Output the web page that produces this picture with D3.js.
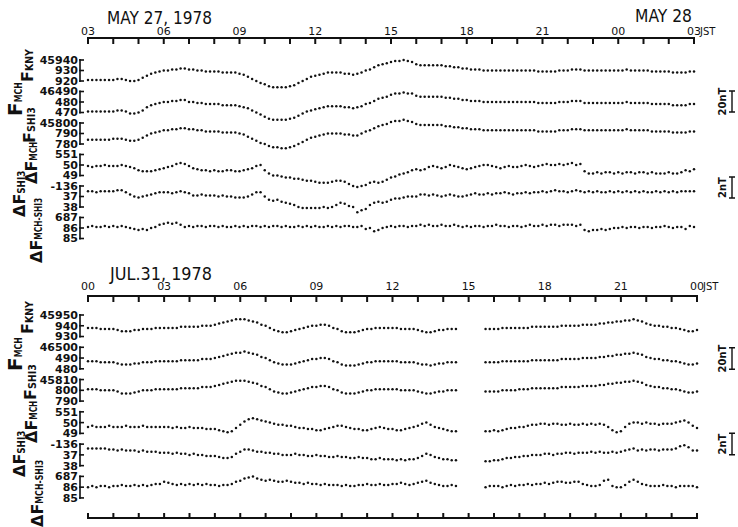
<!DOCTYPE html>
<html>
<head>
<meta charset="utf-8">
<script src="https://cdn.jsdelivr.net/npm/d3@7"></script>
<style>
  body { margin: 0; background: #fff; }
</style>
</head>
<body>
<script>
// ---- data (10-minute values, 145 per day) ----
// time labels on the top axes
const hourLabelsMay = ["03", "06", "09", "12", "15", "18", "21", "00", "03"];
const hourLabelsJul = ["00", "03", "06", "09", "12", "15", "18", "21", "00"];

// y tick labels, three per trace, as printed
const tickLabelsMay = [["45940", "930", "920"], ["46490", "480", "470"], ["45800", "790", "780"],
                       ["551", "50", "49"], ["-136", "37", "38"], ["687", "86", "85"]];
const tickLabelsJul = [["45950", "940", "930"], ["46500", "490", "480"], ["45810", "800", "790"],
                       ["551", "50", "49"], ["-136", "37", "38"], ["687", "86", "85"]];
// value of the top tick of each trace and the tick step (nT)
const tickTopMay = [45940, 46490, 45800, 551, -136, 687];
const tickTopJul = [45950, 46500, 45810, 551, -136, 687];
const tickStep = [10, 10, 10, 1, 1, 1];

// total field, stored as nT above these bases
const fBase = [45900, 46400, 45700];

// May 27 03h JST -> May 28 03h JST
const mayKny = [21,21,21,21,21,21, 21,22,22,21,20,20, 21,23,25,27,28,29, 30,30,31,31,32,32,
  31,31,30,30,29,29, 29,29,28,28,28,28, 27,26,24,22,20,18, 17,15,14,14,14,14,
  15,16,18,20,22,24, 25,26,27,28,28,28, 28,27,27,26,27,28, 30,31,33,35,36,37,
  38,39,39,40,39,38, 36,35,35,35,35,35, 35,34,34,33,33,32, 32,31,31,31,30,30,
  30,30,30,30,30,30, 30,30,30,30,30,29, 29,29,29,29,30,30, 30,31,31,31,30,30,
  30,30,30,30,30,30, 30,30,31,30,30,30, 30,30,29,29,29,29, 29,28,28,28,28,29, 29];
const mayMch = [71,71,71,71,71,71, 71,72,72,71,69,69, 70,72,75,77,78,79, 80,80,81,81,82,82,
  80,80,79,79,78,78, 78,78,77,77,77,77, 76,75,74,72,70,68, 66,64,63,63,63,63,
  64,65,67,69,71,72, 73,74,75,76,76,76, 76,75,75,74,75,76, 78,79,81,83,84,85,
  87,88,88,89,88,88, 86,85,85,85,85,85, 85,84,84,83,83,82, 82,81,81,81,80,80,
  80,80,80,80,80,80, 80,80,80,80,80,79, 79,79,79,79,80,80, 80,81,81,81,79,79,
  79,79,79,79,79,79, 79,79,80,79,79,79, 79,79,78,78,78,78, 78,77,77,77,77,78, 78];
const mayShi = [84,84,84,84,84,84, 85,85,85,84,83,83, 84,86,88,90,91,92, 93,93,94,94,95,95,
  94,94,93,93,92,92, 92,92,91,91,91,91, 90,89,87,85,83,81, 80,78,77,77,76,76,
  77,78,80,82,84,86, 87,88,89,90,90,90, 90,89,89,88,88,90, 92,93,95,97,98,99,
  101,102,102,103,102,101, 99,98,98,98,98,98, 98,97,97,96,96,95, 95,94,94,94,93,93,
  93,93,93,93,93,93, 93,93,93,93,93,92, 92,92,92,92,93,93, 93,94,94,94,93,93,
  93,93,93,93,93,93, 93,93,94,93,93,93, 93,93,92,92,92,92, 92,91,91,91,91,92, 92];
const mayDMch = [549.9,549.8,549.9,549.9,550.0,549.9, 549.9,549.9,550.0,549.9,549.8,549.7,
  549.5,549.4,549.4,549.4,549.5,549.6, 549.7,549.8,549.9,550.1,550.2,550.1,
  549.9,549.7,549.6,549.5,549.5,549.4, 549.5,549.4,549.4,549.5,549.5,549.4,
  549.4,549.5,549.6,549.7,549.9,550.0, 549.5,549.2,549.0,549.0,548.9,548.8,
  548.8,548.7,548.7,548.6,548.5,548.5, 548.4,548.3,548.3,548.3,548.4,548.5,
  548.5,548.4,548.2,548.0,547.9,548.0, 548.1,548.3,548.4,548.3,548.4,548.6,
  548.8,548.9,549.1,549.2,549.3,549.5, 549.6,549.5,549.6,549.8,549.9,549.8,
  549.7,549.8,550.0,549.9,549.8,549.7, 549.6,549.7,549.8,549.9,550.0,550.0,
  549.9,549.8,549.7,549.8,549.9,549.8, 549.8,549.9,550.0,549.9,549.8,549.9,
  550.0,550.1,550.0,550.0,550.1,550.0, 550.1,550.2,550.0,550.1,549.4,549.2,
  549.2,549.3,549.2,549.3,549.3,549.2, 549.3,549.2,549.3,549.3,549.2,549.3,
  549.3,549.2,549.3,549.2,549.2,549.2, 549.3,549.2,549.2,549.3,549.5,549.4, 549.6];
const mayDShi = [-136.5,-136.5,-136.6,-136.5,-136.5,-136.5, -136.5,-136.4,-136.4,-136.6,-136.8,-137.0,
  -137.1,-137.0,-136.9,-136.8,-136.7,-136.6, -136.6,-136.6,-136.7,-136.6,-136.5,-136.6,
  -136.7,-136.9,-136.9,-136.8,-136.9,-136.9, -136.9,-137.0,-136.9,-137.0,-137.0,-137.1,
  -137.1,-137.1,-137.0,-136.8,-136.6,-136.6, -137.0,-137.3,-137.4,-137.3,-137.5,-137.6,
  -137.7,-137.8,-138.0,-138.1,-138.1,-138.1, -138.1,-138.1,-138.0,-138.1,-138.0,-137.8,
  -137.6,-137.7,-137.9,-138.0,-138.5,-138.3, -138.2,-137.8,-137.6,-137.5,-137.6,-137.5,
  -137.3,-137.2,-137.2,-137.1,-137.0,-137.0, -137.0,-136.8,-136.8,-136.9,-136.8,-136.9,
  -137.0,-136.9,-136.8,-136.9,-137.0,-137.0, -136.9,-136.8,-136.7,-136.8,-136.8,-136.7,
  -136.8,-136.7,-136.7,-136.6,-136.7,-136.8, -136.7,-136.7,-136.6,-136.7,-136.6,-136.6,
  -136.5,-136.6,-136.5,-136.4,-136.5,-136.5, -136.6,-136.5,-136.4,-136.5,-136.6,-136.5,
  -136.6,-136.5,-136.6,-136.6,-136.5,-136.6, -136.5,-136.6,-136.5,-136.6,-136.5,-136.6,
  -136.5,-136.6,-136.6,-136.5,-136.6,-136.5, -136.6,-136.5,-136.6,-136.5,-136.5,-136.5, -136.5];
const mayDMchShi = [686.1,686.2,686.1,686.1,686.2,686.1, 686.2,686.1,686.2,686.1,686.0,685.9,
  685.8,685.9,685.8,686.0,686.1,686.3, 686.4,686.5,686.4,686.5,686.3,686.1,
  686.2,686.1,686.2,686.2,686.1,686.2, 686.2,686.1,686.2,686.1,686.1,686.2,
  686.1,686.2,686.1,686.2,686.2,686.1, 686.2,686.1,686.2,686.2,686.1,686.2,
  686.1,686.1,686.2,686.1,686.2,686.1, 686.2,686.1,686.1,686.2,686.1,686.2,
  686.1,686.2,686.2,686.1,686.1,686.2, 685.9,686.0,685.7,685.8,686.0,686.1,
  686.2,686.1,686.2,686.2,686.1,686.2, 686.2,686.3,686.2,686.3,686.2,686.2,
  686.3,686.2,686.2,686.3,686.2,686.1, 686.2,686.1,686.2,686.2,686.1,686.2,
  686.2,686.3,686.2,686.2,686.1,686.2, 686.2,686.1,686.2,686.3,686.2,686.2,
  686.3,686.2,686.3,686.3,686.2,686.3, 686.3,686.3,686.2,686.3,685.8,685.7,
  685.8,685.8,685.9,685.8,685.9,686.0, 686.0,686.1,686.0,686.1,686.1,686.0,
  686.1,686.1,686.0,686.1,686.1,686.2, 686.1,686.0,686.1,686.1,685.9,686.2, 686.1];

// Jul 31 00h JST -> Aug 1 00h JST (null = no record)
const julKny = [38,38,38,37,37,37, 37,36,35,35,35,36, 36,37,37,37,38,38, 38,38,38,38,39,39,
  39,39,39,40,40,40, 41,42,43,44,45,46, 46,46,45,44,43,41, 40,38,36,35,34,34,
  35,36,37,38,39,40, 40,41,41,40,38,37, 35,34,34,34,35,36, 37,37,38,38,38,38,
  38,38,37,37,37,37, 36,35,34,34,35,36, 36,37,37,37,null,null, null,null,null,null,37,37,
  37,37,38,38,38,38, 38,38,38,39,39,39, 39,39,39,39,40,40, 40,40,40,41,41,41,
  41,42,42,43,43,44, 44,45,45,46,45,44, 42,41,40,40,39,39, 38,38,37,36,35,35, 36];
const julMch = [87,87,87,86,86,86, 86,85,84,84,84,85, 85,86,86,86,87,87, 87,87,87,87,88,88,
  88,88,88,89,89,89, 90,91,92,93,94,95, 95,96,95,94,93,91, 90,88,86,85,84,84,
  84,85,86,87,88,89, 89,90,90,89,87,86, 84,83,83,83,84,85, 86,86,87,87,87,87,
  87,87,86,86,86,86, 85,84,84,83,84,85, 85,86,86,86,null,null, null,null,null,null,86,86,
  86,86,87,87,87,87, 87,87,87,88,88,88, 88,88,88,88,89,89, 89,89,89,90,90,90,
  90,91,91,92,92,93, 93,94,94,95,94,93, 91,90,89,89,88,88, 87,87,86,85,84,84, 85];
const julShi = [101,101,101,100,100,100, 100,99,97,97,97,98, 99,100,100,100,101,101,
  101,101,101,101,102,102, 102,102,102,103,103,103, 104,105,106,107,108,109,
  109,109,108,107,106,104, 103,101,99,98,97,97, 98,99,100,101,102,103,
  103,104,104,103,101,100, 98,97,97,97,98,99, 100,100,101,101,101,101,
  101,101,100,100,100,100, 99,98,97,97,98,99, 99,100,100,100,null,null,
  null,null,null,null,99,99, 99,99,100,100,100,100, 101,101,101,102,102,102,
  102,102,102,102,103,103, 103,103,103,104,104,104, 104,105,105,106,106,107,
  107,108,108,109,108,107, 105,104,103,103,102,102, 101,101,100,99,98,98, 99];
const julDMch = [549.6,549.7,549.6,549.6,549.6,549.7, 549.6,549.6,549.6,549.7,549.6,549.6,
  549.6,549.7,549.6,549.6,549.6,549.6, 549.6,549.6,549.5,549.6,549.5,549.5,
  549.6,549.5,549.5,549.5,549.4,549.4, 549.4,549.3,549.2,549.1,549.2,549.5,
  549.8,550.1,550.3,550.4,550.3,550.2, 550.1,550.0,549.9,549.8,549.8,549.7,
  549.7,549.6,549.5,549.5,549.4,549.4, 549.3,549.3,549.4,549.5,549.6,549.7,
  549.7,549.6,549.5,549.4,549.4,549.3, 549.3,549.4,549.5,549.6,549.5,549.4,
  549.4,549.3,549.3,549.4,549.5,549.6, 549.7,549.9,550.0,549.8,549.6,549.5,
  549.4,549.3,549.2,549.2,null,null, null,null,null,null,549.2,549.2,
  549.3,549.2,549.3,549.4,549.5,549.5, 549.6,549.6,549.7,549.8,549.8,549.9,
  549.9,549.8,549.9,549.9,549.8,549.8, 549.9,549.8,549.8,549.9,549.8,549.9,
  549.8,549.9,549.8,549.6,549.3,549.1, 549.2,549.6,549.9,550.0,550.0,549.9,
  550.0,549.9,549.9,549.8,549.9,549.9, 549.9,550.0,550.1,550.2,550.0,549.7, 549.5];
const julDShi = [-136.4,-136.4,-136.4,-136.4,-136.4,-136.5, -136.5,-136.6,-136.5,-136.6,-136.6,-136.6,
  -136.7,-136.6,-136.7,-136.7,-136.7,-136.8, -136.8,-136.8,-136.9,-136.8,-136.9,-136.9,
  -137.0,-136.9,-137.0,-137.0,-137.1,-137.1, -137.1,-137.2,-137.3,-137.3,-137.2,-136.9,
  -136.7,-136.5,-136.5,-136.6,-136.7,-136.7, -136.8,-136.8,-136.9,-136.9,-137.0,-137.0,
  -137.0,-136.9,-137.0,-137.0,-137.1,-137.1, -137.0,-137.1,-137.1,-137.2,-137.2,-137.1,
  -137.2,-137.2,-137.3,-137.3,-137.2,-137.3, -137.3,-137.4,-137.4,-137.3,-137.4,-137.4,
  -137.4,-137.5,-137.4,-137.5,-137.4,-137.4, -137.3,-137.1,-136.9,-137.0,-137.2,-137.3,
  -137.4,-137.4,-137.5,-137.5,null,null, null,null,null,null,-137.6,-137.6,
  -137.5,-137.5,-137.4,-137.3,-137.3,-137.2, -137.2,-137.1,-137.1,-137.0,-137.0,-137.0,
  -136.9,-136.9,-137.0,-136.9,-136.9,-136.8, -136.8,-136.9,-136.8,-136.8,-136.8,-136.7,
  -136.8,-136.7,-136.8,-136.8,-136.7,-136.8, -136.7,-136.6,-136.5,-136.4,-136.6,-136.5,
  -136.6,-136.5,-136.5,-136.6,-136.5,-136.5, -136.5,-136.4,-136.2,-136.1,-136.3,-136.6, -136.6];
const julDMchShi = [686.0,686.1,686.0,686.1,686.1,686.0, 686.1,686.1,686.2,686.1,686.1,686.2,
  686.1,686.2,686.1,686.2,686.3,686.3, 686.5,686.4,686.3,686.2,686.3,686.2,
  686.3,686.2,686.3,686.2,686.3,686.2, 686.2,686.1,686.2,686.2,686.3,686.5,
  686.6,686.8,686.9,687.0,686.8,686.7, 686.6,686.7,686.6,686.5,686.5,686.6,
  686.5,686.4,686.4,686.3,686.4,686.3, 686.3,686.2,686.3,686.2,686.2,686.2,
  686.1,686.2,686.1,686.1,686.2,686.2, 686.3,686.2,686.2,686.3,686.2,686.2,
  686.3,686.3,686.4,686.3,686.2,686.3, 686.4,686.5,686.6,686.4,686.3,686.2,
  686.1,686.1,686.2,686.1,null,null, null,null,null,null,686.0,686.1,
  686.1,686.1,686.0,686.1,686.2,686.1, 686.2,686.2,686.3,686.2,686.3,686.3,
  686.4,686.3,686.4,686.5,686.5,686.4, 686.4,686.5,686.5,686.3,686.2,686.1,
  686.1,686.2,686.6,686.7,686.1,686.0, 686.0,686.2,686.5,686.7,686.5,686.3,
  686.2,686.1,686.1,686.1,686.2,686.1, 686.1,686.0,686.1,686.1,686.1,686.1, 686.0];

// ---- drawing ----
const W = 738, H = 527;
const ink = "#111";
const font = "'DejaVu Sans', sans-serif";

const svg = d3.select("body").append("svg")
  .attr("width", W)
  .attr("height", H);

svg.append("rect").attr("width", W).attr("height", H).attr("fill", "#fff");

const withBase = (arr, b) => arr.map(v => v == null ? null : v + b);

const panels = [
  {
    x0: 88, x1: 694, axisY: 38, labelY: 35, tickY0: 60, tickGap: 10.5, bottomAxis: null,
    hours: hourLabelsMay, labels: tickLabelsMay, tops: tickTopMay,
    titles: [{text: "MAY 27, 1978", x: 107, y: 24, len: 105}, {text: "MAY 28", x: 635, y: 22, len: 57}],
    series: [withBase(mayKny, fBase[0]), withBase(mayMch, fBase[1]), withBase(mayShi, fBase[2]),
             mayDMch, mayDShi, mayDMchShi],
    names: [[33, 82, "F", "KNY", 22, 16], [22, 116, "F", "MCH", 20, 20], [35, 143, "F", "SHI3", 25, 16],
            [37, 184, "\u0394F", "MCH", 19, 16], [25, 217, "\u0394F", "SHI3", 23, 16], [42, 263, "\u0394F", "MCH-SHI3", 42, 16]],
    bars: [{label: "20nT", trace: 1, mid: 101.5, nT: 20}, {label: "2nT", trace: 4, mid: 187.5, nT: 2}]
  },
  {
    x0: 88, x1: 697, axisY: 296, labelY: 290, tickY0: 315, tickGap: 10.76, bottomAxis: 518,
    hours: hourLabelsJul, labels: tickLabelsJul, tops: tickTopJul,
    titles: [{text: "JUL.31, 1978", x: 110, y: 280, len: 102}],
    series: [withBase(julKny, fBase[0]), withBase(julMch, fBase[1]), withBase(julShi, fBase[2]),
             julDMch, julDShi, julDMchShi],
    names: [[33, 334, "F", "KNY", 22, 16], [22, 371, "F", "MCH", 20, 20], [36, 400, "F", "SHI3", 25, 16],
            [37, 443, "\u0394F", "MCH", 19, 16], [25, 477, "\u0394F", "SHI3", 23, 16], [43, 527, "\u0394F", "MCH-SHI3", 44, 16]],
    bars: [{label: "20nT", trace: 1, mid: 358.5, nT: 20}, {label: "2nT", trace: 4, mid: 444, nT: 2}]
  }
];

// hour axis: base line plus one small rect tick per hour
function hourTicks(x, y, dir, len) {
  const g = svg.append("g");
  g.append("rect")
    .attr("x", x(0) - 1).attr("y", y - 1)
    .attr("width", x(24) - x(0) + 2).attr("height", 2)
    .attr("fill", ink);
  g.selectAll("rect.hr")
    .data(d3.range(0, 25))
    .enter()
    .append("rect")
    .attr("class", "hr")
    .attr("x", d => x(d) - 1)
    .attr("y", dir > 0 ? y : y - len)
    .attr("width", 2)
    .attr("height", len)
    .attr("fill", ink);
}

panels.forEach(function(p) {
  const x = d3.scaleLinear().domain([0, 24]).range([p.x0, p.x1]);

  // time axis along the top
  hourTicks(x, p.axisY, 1, 6);

  svg.selectAll(null)
    .data(p.hours)
    .enter()
    .append("text")
    .attr("x", (d, i) => x(i * 3))
    .attr("y", p.labelY)
    .attr("text-anchor", "middle")
    .attr("font-family", font)
    .attr("font-size", 11)
    .attr("fill", ink)
    .text(d => d);

  svg.append("text")
    .attr("x", x(24) + 6)
    .attr("y", p.labelY)
    .attr("font-family", font)
    .attr("font-size", 10)
    .attr("fill", ink)
    .text("JST");

  if (p.bottomAxis) hourTicks(x, p.bottomAxis, -1, 5);

  p.titles.forEach(function(t) {
    svg.append("text")
      .attr("x", t.x)
      .attr("y", t.y)
      .attr("font-family", font)
      .attr("font-size", 18)
      .attr("textLength", t.len)
      .attr("lengthAdjust", "spacingAndGlyphs")
      .attr("fill", ink)
      .text(t.text);
  });

  // one y scale per trace, three labelled ticks each
  const yScales = p.series.map(function(s, g) {
    const yTop = p.tickY0 + p.tickGap * g * 3;
    return d3.scaleLinear()
      .domain([p.tops[g], p.tops[g] - 2 * tickStep[g]])
      .range([yTop, yTop + 2 * p.tickGap]);
  });

  yScales.forEach(function(y, g) {
    const vals = [0, 1, 2].map(k => p.tops[g] - k * tickStep[g]);
    const ax = svg.append("g");
    ax.append("rect")
      .attr("x", 79.2).attr("y", y(vals[0]) - 1)
      .attr("width", 1.6).attr("height", y(vals[2]) - y(vals[0]) + 2)
      .attr("fill", ink);
    ax.selectAll("rect.tk")
      .data(vals)
      .enter()
      .append("rect")
      .attr("class", "tk")
      .attr("x", 79.2).attr("y", d => y(d) - 0.8)
      .attr("width", 4.8).attr("height", 1.6)
      .attr("fill", ink);
    ax.selectAll("text")
      .data(vals)
      .enter()
      .append("text")
      .attr("x", 78)
      .attr("y", d => y(d))
      .attr("dy", "0.36em")
      .attr("text-anchor", "end")
      .attr("font-family", font)
      .attr("font-weight", "bold")
      .attr("font-size", 11)
      .attr("fill", ink)
      .text((d, i) => p.labels[g][i]);
  });

  // dotted traces
  p.series.forEach(function(s, g) {
    const pts = s.map((v, i) => ({t: i / 6, v: v})).filter(d => d.v != null);
    svg.append("g")
      .selectAll("circle")
      .data(pts)
      .enter()
      .append("circle")
      .attr("cx", d => x(d.t))
      .attr("cy", d => yScales[g](d.v))
      .attr("r", 1.25)
      .attr("fill", ink);
  });

  // rotated trace names
  p.names.forEach(function(n) {
    const t = svg.append("text")
      .attr("transform", "translate(" + n[0] + "," + n[1] + ") rotate(-90)")
      .attr("font-family", font)
      .attr("font-weight", "bold")
      .attr("fill", ink);
    t.append("tspan").attr("font-size", n[5]).text(n[2]);
    t.append("tspan")
      .attr("font-size", 10.5)
      .attr("textLength", n[4])
      .attr("lengthAdjust", "spacingAndGlyphs")
      .text(n[3]);
  });

  // scale bars
  p.bars.forEach(function(b) {
    const y = yScales[b.trace];
    const half = Math.abs(y(0) - y(b.nT)) / 2;
    const bx = 732;
    svg.append("path")
      .attr("d", "M" + (bx - 3) + "," + (b.mid - half) + "H" + (bx + 3) +
                 "M" + bx + "," + (b.mid - half) + "V" + (b.mid + half) +
                 "M" + (bx - 3) + "," + (b.mid + half) + "H" + (bx + 3))
      .attr("stroke", ink)
      .attr("stroke-width", 1.4)
      .attr("fill", "none");
    svg.append("text")
      .attr("transform", "translate(726," + b.mid + ") rotate(-90)")
      .attr("text-anchor", "middle")
      .attr("font-family", font)
      .attr("font-weight", "bold")
      .attr("font-size", 10)
      .attr("fill", ink)
      .text(b.label);
  });
});
</script>
</body>
</html>
